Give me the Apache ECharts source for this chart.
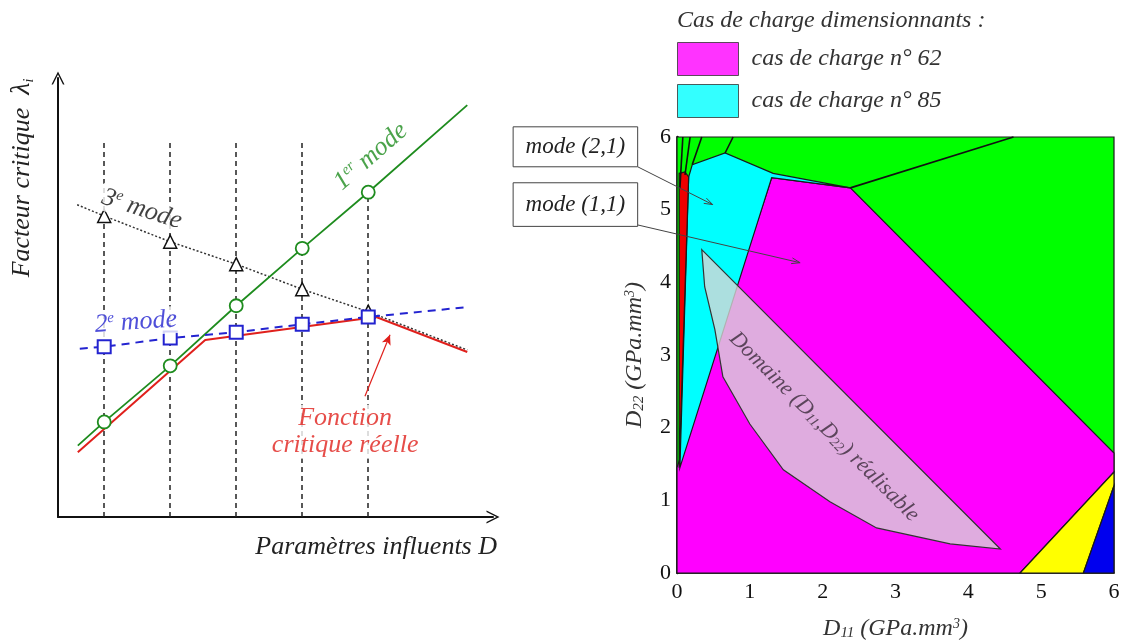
<!DOCTYPE html>
<html><head><meta charset="utf-8">
<script src="https://cdn.jsdelivr.net/npm/echarts/dist/echarts.min.js"></script>
<style>html,body{margin:0;padding:0;background:#fff}#c{width:1123px;height:641px}</style>
</head><body><div id="c"></div>
<script>
// ===== Left schematic: "Facteur critique" vs "Paramètres influents D" =====
const dPositions   = [0.7, 1.7, 2.7, 3.7, 4.7];
const mode1Values  = [1.44, 2.29, 3.20, 4.07, 4.92];   // 1er mode (circles)
const mode1Start   = [0.30, 1.08];
const mode1End     = [6.20, 6.24];
const mode2Values  = [2.58, 2.71, 2.80, 2.92, 3.03];   // 2e mode (squares)
const mode2Start   = [0.33, 2.55];
const mode2End     = [6.20, 3.18];
const mode3Values  = [4.56, 4.17, 3.83, 3.45, 3.11];   // 3e mode (triangles)
const mode3Start   = [0.29, 4.73];
const mode3End     = [6.20, 2.53];
const criticalX    = [0.30, 2.23, 4.82, 6.20];         // fonction critique réelle
const criticalY    = [0.98, 2.68, 3.03, 2.50];
const dashTops     = [5.68, 5.68, 5.68, 5.68, 4.92];
const criticalArrow = [[4.65, 1.83], [5.03, 2.76]];

const leftLabelTexts = [
  '{n|1}{s|er}{n| mode}',
  '{n|3}{s|e}{n| mode}',
  '{n|2}{s|e}{n| mode}',
  '{n|Fonction}\n{n|critique réelle}'
];
const leftLabelPos    = [[4.74, 5.46], [1.27, 4.66], [1.18, 2.95], [4.35, 1.29]];
const leftLabelRotate = [41, -18, 4, 0];
const leftLabelColor  = ['#1e8c1e', '#111111', '#2323d0', '#e0201c'];

// ===== Right chart: D11 / D22 domain =====
const xTicks = [0, 1, 2, 3, 4, 5, 6];
const regionGreen   = [[0,0],[6,0],[6,6],[0,6]];
const regionMagenta = [[0,0],[0,1.45],[1.30,5.44],[2.38,5.30],[6,1.65],[6,1.39],[4.71,0]];
const regionCyan    = [[0.04,1.45],[1.30,5.44],[2.38,5.30],[1.32,5.50],[0.66,5.78],[0.21,5.62],[0.16,5.45]];
const regionRed     = [[0.03,1.45],[0.16,5.45],[0.11,5.52],[0.03,5.50]];
const regionYellow  = [[4.71,0],[6,1.39],[6,1.20],[5.58,0]];
const regionBlue    = [[5.58,0],[6,1.20],[6,0]];
const domainRealisable = [[0.34,4.45],[4.44,0.33],[3.75,0.40],[2.74,0.62],[2.10,0.98],[1.46,1.42],
                          [1.00,2.05],[0.63,2.70],[0.52,3.35],[0.38,3.94]];
const boundaryLines = [
  [[0.04,5.30],[0.08,6]],
  [[0.11,5.48],[0.18,6]],
  [[0.21,5.62],[0.34,6]],
  [[0.66,5.78],[0.77,6]],
  [[2.38,5.30],[4.62,6]]
];
const regionFills = ['#00ff00','#ff00ff','#00ffff','#ee0000','#ffff00','#0000ee'];
const regionShapes = [regionGreen, regionMagenta, regionCyan, regionRed, regionYellow, regionBlue];

const legendNames  = ['cas de charge n° 62', 'cas de charge n° 85'];
const legendColors = ['#ff00ff', '#00ffff'];

const annotationTexts = ['mode (2,1)', 'mode (1,1)'];
const annotationBoxes = [[[-2.25,6.14],[-0.54,5.59]], [[-2.25,5.37],[-0.54,4.77]]];
const annotationArrows = [[[-0.54,5.59],[0.49,5.07]], [[-0.54,4.79],[1.69,4.27]]];

const domainLabelPos = [2.02, 2.01];

const SERIF = '"Liberation Serif","DejaVu Serif",serif';
const chevron = 'path://M0,12 L6,0 L12,12 L10.6,12 L6,2.8 L1.4,12 Z';

function pts(xs, ys) { return xs.map((x, i) => [x, ys[i]]); }
function line(start, values, end) {
  return [start].concat(dPositions.map((x, i) => [x, values[i]])).concat([end]);
}

const chart = echarts.init(document.getElementById('c'), null, {renderer: 'canvas'});

const hiddenAxisBase = {
  type: 'value', axisTick: {show: false}, axisLabel: {show: false}, splitLine: {show: false},
  axisLine: {show: true, lineStyle: {color: '#111', width: 2}, symbol: ['none', chevron], symbolSize: [13, 13]}
};

function markerSeries(name, values, symbol, size, color, bw, z) {
  return {type: 'scatter', name: name, xAxisIndex: 0, yAxisIndex: 0, silent: true, z: z,
    data: pts(dPositions, values), symbol: symbol, symbolSize: size,
    itemStyle: {color: '#ffffff', borderColor: color, borderWidth: bw, opacity: 1}};
}

const axisNameRich = {
  i: {fontFamily: SERIF, fontStyle: 'italic', fontSize: 24, color: '#333'},
  s: {fontFamily: SERIF, fontStyle: 'italic', fontSize: 15, color: '#333', verticalAlign: 'bottom', padding: [9, 0, 0, 0]},
  p: {fontFamily: SERIF, fontStyle: 'italic', fontSize: 14, color: '#333', verticalAlign: 'top'}
};

const option = {
  animation: false,
  backgroundColor: '#fff',
  title: {
    text: 'Cas de charge dimensionnants :', left: 672, top: 4,
    textStyle: {fontFamily: SERIF, fontStyle: 'italic', fontWeight: 'normal', fontSize: 24, color: '#333'}
  },
  legend: {
    orient: 'vertical', left: 672, top: 37, itemWidth: 61, itemHeight: 33, itemGap: 8,
    icon: 'rect', data: legendNames, selectedMode: false,
    itemStyle: {borderColor: '#333', borderWidth: 1},
    textStyle: {fontFamily: SERIF, fontStyle: 'italic', fontSize: 24, color: '#333', padding: [0, 0, 0, 8]}
  },
  graphic: [
    {type: 'text', x: 22, y: 178, rotation: Math.PI / 2,
     style: {text: '{n|Facteur critique  }{l|λ}{s|i}', align: 'center', verticalAlign: 'middle',
       rich: {n: {fontFamily: SERIF, fontStyle: 'italic', fontSize: 26, fill: '#222', color: '#222'},
              l: {fontFamily: SERIF, fontStyle: 'italic', fontSize: 28, fill: '#222', color: '#222'},
              s: {fontFamily: SERIF, fontStyle: 'italic', fontSize: 14, fill: '#222', color: '#222', verticalAlign: 'bottom'}}}},
    {type: 'text', x: 497, y: 547,
     style: {text: 'Paramètres influents D', align: 'right', verticalAlign: 'middle',
       font: 'italic 26px ' + SERIF, fill: '#222'}}
  ],
  grid: [
    {left: 58, top: 78, width: 435, height: 439, outerBoundsMode: 'none'},
    {left: 677, top: 137, width: 437, height: 436, outerBoundsMode: 'none'}
  ],
  xAxis: [
    Object.assign({}, hiddenAxisBase, {gridIndex: 0, min: 0, max: 6.59}),
    {type: 'value', gridIndex: 1, min: 0, max: 6, interval: 1,
     axisTick: {show: false}, splitLine: {show: false},
     axisLine: {show: true, lineStyle: {color: '#111', width: 1.5}},
     axisLabel: {fontFamily: SERIF, fontSize: 22, color: '#111', margin: 8,
       formatter: v => xTicks.indexOf(v) >= 0 ? String(v) : ''},
     name: '{i|D}{s|11}{i| (GPa.mm}{p|3}{i|)}', nameLocation: 'middle', nameGap: 44,
     nameTextStyle: {rich: axisNameRich}}
  ],
  yAxis: [
    Object.assign({}, hiddenAxisBase, {gridIndex: 0, min: 0, max: 6.65}),
    {type: 'value', gridIndex: 1, min: 0, max: 6, interval: 1,
     axisTick: {show: false}, splitLine: {show: false},
     axisLine: {show: true, lineStyle: {color: '#111', width: 2.5}},
     axisLabel: {fontFamily: SERIF, fontSize: 22, color: '#111', margin: 6},
     name: '{i|D}{s|22}{i| (GPa.mm}{p|3}{i|)}', nameLocation: 'middle', nameGap: 30, nameRotate: 90,
     nameTextStyle: {rich: axisNameRich}}
  ],
  series: [
    // ---- left: 3e mode (dotted) + vertical dashed lines
    {type: 'line', name: '3e mode', xAxisIndex: 0, yAxisIndex: 0,
     data: line(mode3Start, mode3Values, mode3End), symbol: 'none',
     lineStyle: {color: '#333', width: 1.5, type: [2, 2]},
     markLine: {silent: true, symbol: ['none', 'none'], label: {show: false},
       lineStyle: {type: [5, 4], color: '#222', width: 1.5},
       data: dPositions.map((x, i) => [{coord: [x, 0]}, {coord: [x, dashTops[i]]}])},
     z: 1},
    // ---- left: fonction critique réelle
    {type: 'line', name: 'Fonction critique réelle', xAxisIndex: 0, yAxisIndex: 0,
     data: pts(criticalX, criticalY), symbol: 'none',
     lineStyle: {color: '#e0201c', width: 2},
     markLine: {silent: true, symbol: ['none', 'arrow'], symbolSize: [7, 10], label: {show: false},
       lineStyle: {type: 'solid', color: '#e0201c', width: 1.2},
       data: [[{coord: criticalArrow[0]}, {coord: criticalArrow[1]}]]},
     z: 2},
    // ---- left: 1er mode
    {type: 'line', name: '1er mode', xAxisIndex: 0, yAxisIndex: 0,
     data: line(mode1Start, mode1Values, mode1End), symbol: 'none',
     lineStyle: {color: '#1e8c1e', width: 1.8}, z: 3},
    // ---- left: 2e mode
    {type: 'line', name: '2e mode', xAxisIndex: 0, yAxisIndex: 0,
     data: line(mode2Start, mode2Values, mode2End), symbol: 'none',
     lineStyle: {color: '#2323d0', width: 2, type: [8, 6]}, z: 4},
    markerSeries('3e mode pts', mode3Values, 'triangle', 13, '#111', 1.5, 5),
    markerSeries('1er mode pts', mode1Values, 'circle', 13, '#1e8c1e', 1.8, 6),
    markerSeries('2e mode pts', mode2Values, 'rect', 13, '#2323d0', 2, 7),
    // ---- left: labels
    {type: 'scatter', xAxisIndex: 0, yAxisIndex: 0, symbolSize: 0, silent: true, z: 8,
     data: leftLabelPos.map((p, i) => ({
       value: p,
       label: {
         show: true, position: 'inside', rotate: leftLabelRotate[i],
         formatter: leftLabelTexts[i], backgroundColor: '#fff', padding: [0, 3],
         rich: {
           n: {fontFamily: SERIF, fontStyle: 'italic', fontSize: 26, color: leftLabelColor[i], lineHeight: 27, align: 'center'},
           s: {fontFamily: SERIF, fontStyle: 'italic', fontSize: 15, color: leftLabelColor[i], verticalAlign: 'top'}
         }
       }
     }))},
    // ---- right: regions
    {type: 'custom', xAxisIndex: 1, yAxisIndex: 1, silent: true, z: 2,
     data: regionShapes.map(s => s[0]),
     renderItem: function (params, api) {
       const shape = regionShapes[params.dataIndex];
       return {type: 'polygon', shape: {points: shape.map(p => api.coord(p))},
         style: {fill: regionFills[params.dataIndex], stroke: '#1a1a1a', lineWidth: 1.2}};
     }},
    {type: 'custom', xAxisIndex: 1, yAxisIndex: 1, silent: true, z: 3,
     data: boundaryLines.map(l => l[0]),
     renderItem: function (params, api) {
       const l = boundaryLines[params.dataIndex];
       return {type: 'polyline', shape: {points: l.map(p => api.coord(p))},
         style: {stroke: '#111', lineWidth: 1.6, fill: null}};
     }},
    {type: 'custom', xAxisIndex: 1, yAxisIndex: 1, silent: true, z: 4,
     data: [domainRealisable[0]],
     renderItem: function (params, api) {
       return {type: 'polygon', shape: {points: domainRealisable.map(p => api.coord(p))},
         style: {fill: 'rgba(215,215,215,0.8)', stroke: '#333', lineWidth: 1.2}};
     }},
    {type: 'scatter', xAxisIndex: 1, yAxisIndex: 1, symbolSize: 0, silent: true, z: 5,
     data: [{value: domainLabelPos, label: {
       show: true, position: 'inside', rotate: -45,
       formatter: '{n|Domaine (D}{s|11}{n|,D}{s|22}{n|) réalisable}',
       rich: {n: {fontFamily: SERIF, fontStyle: 'italic', fontSize: 22, color: '#3a2a3a'},
              s: {fontFamily: SERIF, fontStyle: 'italic', fontSize: 14, color: '#3a2a3a', verticalAlign: 'bottom', padding: [8, 0, 0, 0]}}
     }}]},
    // ---- right: mode annotations
    {type: 'custom', xAxisIndex: 1, yAxisIndex: 1, silent: true, clip: false, z: 6,
     data: annotationBoxes.map(b => b[0]),
     renderItem: function (params, api) {
       const i = params.dataIndex;
       const p1 = api.coord(annotationBoxes[i][0]), p2 = api.coord(annotationBoxes[i][1]);
       const f = api.coord(annotationArrows[i][0]), t = api.coord(annotationArrows[i][1]);
       const ang = Math.atan2(t[1] - f[1], t[0] - f[0]);
       const L = 9, w = 0.33;
       const h1 = [t[0] - L * Math.cos(ang - w), t[1] - L * Math.sin(ang - w)];
       const h2 = [t[0] - L * Math.cos(ang + w), t[1] - L * Math.sin(ang + w)];
       return {type: 'group', children: [
         {type: 'line', shape: {x1: f[0], y1: f[1], x2: t[0], y2: t[1]}, style: {stroke: '#444', lineWidth: 1}},
         {type: 'polyline', shape: {points: [h1, t, h2]}, style: {stroke: '#444', lineWidth: 1, fill: null}},
         {type: 'rect', shape: {x: p1[0], y: p1[1], width: p2[0] - p1[0], height: p2[1] - p1[1]},
          style: {fill: '#fff', stroke: '#444', lineWidth: 1}},
         {type: 'text', x: (p1[0] + p2[0]) / 2, y: (p1[1] + p2[1]) / 2,
          style: {text: annotationTexts[i], font: 'italic 23px ' + SERIF, fill: '#222', align: 'center', verticalAlign: 'middle'}}
       ]};
     }},
    // ---- legend entries
    {type: 'scatter', name: legendNames[0], xAxisIndex: 1, yAxisIndex: 1, data: [], itemStyle: {color: legendColors[0]}},
    {type: 'scatter', name: legendNames[1], xAxisIndex: 1, yAxisIndex: 1, data: [], itemStyle: {color: legendColors[1]}}
  ]
};
chart.setOption(option);
</script>
</body></html>
